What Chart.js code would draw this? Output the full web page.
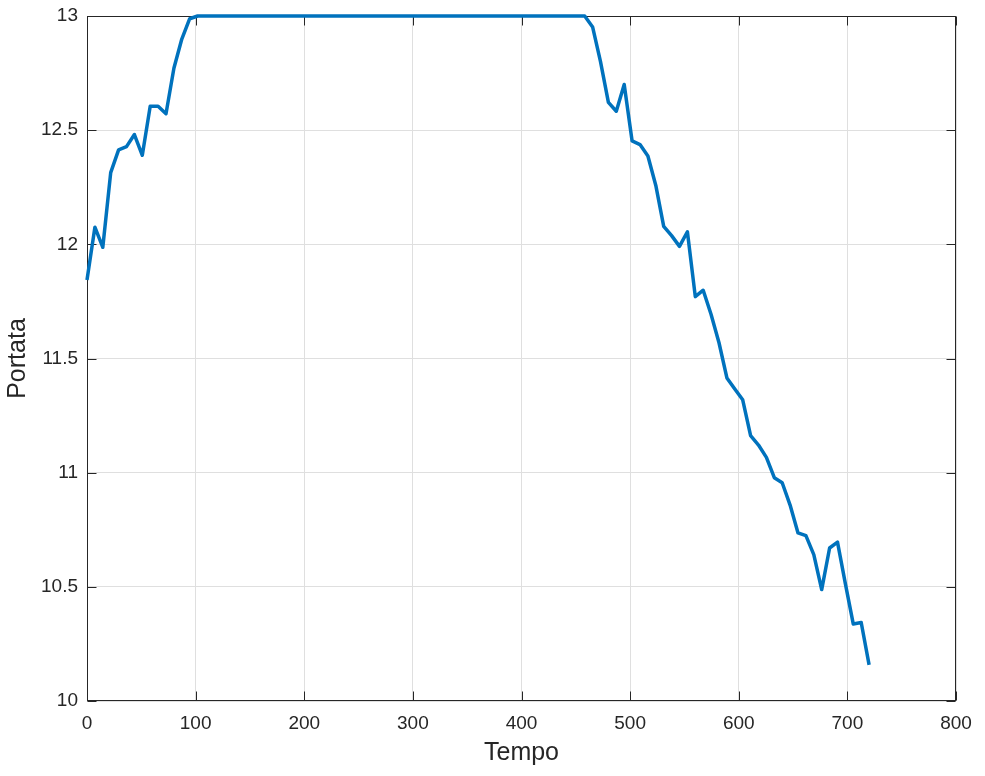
<!DOCTYPE html>
<html>
<head>
<meta charset="utf-8">
<script src="https://cdn.jsdelivr.net/npm/chart.js@4"></script>
<style>
    body { margin: 0; background: #ffffff; }
    #wrap { width: 985px; height: 776px; }
</style>
</head>
<body>
<div id="wrap"><canvas id="portata-chart" width="985" height="776"></canvas></div>
<script>
// Time samples (100 points, 0 to 720)
const tempo = [
    0, 7.27, 14.55, 21.82, 29.09, 36.36, 43.64, 50.91, 58.18, 65.45,
    72.73, 80, 87.27, 94.55, 101.82, 109.09, 116.36, 123.64, 130.91, 138.18,
    145.45, 152.73, 160, 167.27, 174.55, 181.82, 189.09, 196.36, 203.64, 210.91,
    218.18, 225.45, 232.73, 240, 247.27, 254.55, 261.82, 269.09, 276.36, 283.64,
    290.91, 298.18, 305.45, 312.73, 320, 327.27, 334.55, 341.82, 349.09, 356.36,
    363.64, 370.91, 378.18, 385.45, 392.73, 400, 407.27, 414.55, 421.82, 429.09,
    436.36, 443.64, 450.91, 458.18, 465.45, 472.73, 480, 487.27, 494.55, 501.82,
    509.09, 516.36, 523.64, 530.91, 538.18, 545.45, 552.73, 560, 567.27, 574.55,
    581.82, 589.09, 596.36, 603.64, 610.91, 618.18, 625.45, 632.73, 640, 647.27,
    654.55, 661.82, 669.09, 676.36, 683.64, 690.91, 698.18, 705.45, 712.73, 720
];

// Flow values
const portata = [
    11.844, 12.075, 11.987, 12.314, 12.414, 12.428, 12.481, 12.39, 12.605, 12.605,
    12.572, 12.771, 12.899, 12.988, 13, 13, 13, 13, 13, 13,
    13, 13, 13, 13, 13, 13, 13, 13, 13, 13,
    13, 13, 13, 13, 13, 13, 13, 13, 13, 13,
    13, 13, 13, 13, 13, 13, 13, 13, 13, 13,
    13, 13, 13, 13, 13, 13, 13, 13, 13, 13,
    13, 13, 13, 13, 12.952, 12.80, 12.622, 12.583, 12.70, 12.453,
    12.437, 12.387, 12.258, 12.079, 12.038, 11.991, 12.055, 11.771, 11.799, 11.693,
    11.569, 11.415, 11.366, 11.319, 11.162, 11.121, 11.067, 10.978, 10.956, 10.858,
    10.736, 10.724, 10.641, 10.488, 10.670, 10.696, 10.513, 10.337, 10.344, 10.158
];

// Axis ticks
const xTicks = [0, 100, 200, 300, 400, 500, 600, 700, 800];
const yTicks = [10, 10.5, 11, 11.5, 12, 12.5, 13];

const textColor = '#262626';
const gridColor = '#dfdfdf';
const fontFamily = '"Liberation Sans", Arial, Helvetica, sans-serif';

// Box around the plot area plus inward tick marks (MATLAB style)
const boxPlugin = {
    id: 'boxTicks',
    beforeDatasetsDraw(chart) {
        const { ctx, chartArea, scales } = chart;
        const l = Math.round(chartArea.left) + 0.5;
        const r = Math.round(chartArea.right) - 0.5;
        const t = Math.round(chartArea.top) + 0.5;
        const b = Math.round(chartArea.bottom) - 0.5;
        const len = 9;
        ctx.save();
        ctx.strokeStyle = textColor;
        ctx.lineWidth = 1;
        ctx.beginPath();
        xTicks.forEach(v => {
            const px = Math.round(scales.x.getPixelForValue(v)) + 0.5;
            ctx.moveTo(px, b); ctx.lineTo(px, b - len);
            ctx.moveTo(px, t); ctx.lineTo(px, t + len);
        });
        yTicks.forEach(v => {
            const py = Math.round(scales.y.getPixelForValue(v)) + 0.5;
            ctx.moveTo(l, py); ctx.lineTo(l + len, py);
            ctx.moveTo(r, py); ctx.lineTo(r - len, py);
        });
        ctx.stroke();
        ctx.strokeRect(l, t, r - l, b - t);
        ctx.restore();
    }
};

const ctx = document.getElementById('portata-chart').getContext('2d');
const portataChart = new Chart(ctx, {
    type: 'line',
    data: {
        datasets: [{
            label: 'Portata',
            data: tempo.map((t, i) => ({ x: t, y: portata[i] })),
            borderColor: '#0072BD',
            borderWidth: 3.5,
            borderJoinStyle: 'round',
            borderCapStyle: 'butt',
            pointRadius: 0,
            tension: 0,
            fill: false,
            clip: false
        }]
    },
    options: {
        responsive: false,
        animation: false,
        layout: {
            padding: { top: 16, right: 29, left: 0, bottom: 0 }
        },
        plugins: {
            legend: { display: false },
            tooltip: { enabled: false }
        },
        scales: {
            x: {
                type: 'linear',
                min: 0,
                max: 800,
                afterBuildTicks: scale => { scale.ticks = xTicks.map(v => ({ value: v })); },
                afterFit: scale => {
                    scale.height = 75;
                    scale.paddingLeft = 0;
                    scale.paddingRight = 0;
                },
                grid: { color: gridColor, drawTicks: false },
                border: { display: false },
                ticks: {
                    color: textColor,
                    padding: 11,
                    maxRotation: 0,
                    font: { family: fontFamily, size: 19 },
                    callback: value => String(value)
                },
                title: {
                    display: true,
                    text: 'Tempo',
                    color: textColor,
                    font: { family: fontFamily, size: 25 },
                    padding: { top: 0, bottom: 8 }
                }
            },
            y: {
                type: 'linear',
                min: 10,
                max: 13,
                afterBuildTicks: scale => { scale.ticks = yTicks.map(v => ({ value: v })); },
                afterFit: scale => {
                    scale.width = 87;
                    scale.paddingTop = 0;
                    scale.paddingBottom = 0;
                },
                grid: { color: gridColor, drawTicks: false },
                border: { display: false },
                ticks: {
                    color: textColor,
                    padding: 9,
                    font: { family: fontFamily, size: 19 },
                    callback: value => String(value)
                },
                title: {
                    display: true,
                    text: 'Portata',
                    color: textColor,
                    font: { family: fontFamily, size: 25 },
                    padding: { top: 3, bottom: 0 }
                }
            }
        }
    },
    plugins: [boxPlugin]
});
</script>
</body>
</html>
